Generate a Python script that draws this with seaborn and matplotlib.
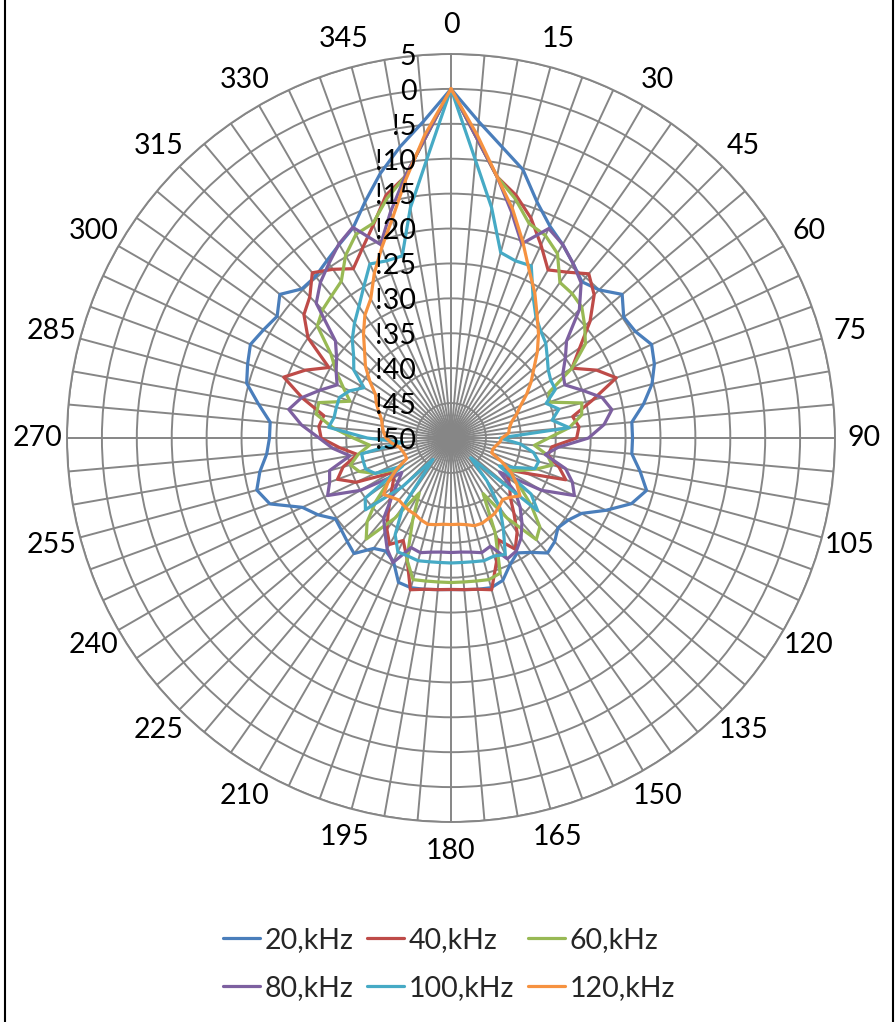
import numpy as np
import pandas as pd
import matplotlib
matplotlib.use("Agg")
import matplotlib.pyplot as plt
import seaborn as sns

# angles of the radar categories (every 5 degrees)
angles = list(range(0, 360, 5))
angle_labels = [str(a) if a % 15 == 0 else "" for a in angles]

r_ticks = list(range(5, -55, -5))
r_labels = ["5", "0", "!5", "!10", "!15", "!20", "!25", "!30", "!35", "!40", "!45", "!50"]

series_names = ["20,kHz", "40,kHz", "60,kHz", "80,kHz", "100,kHz", "120,kHz"]
colors = ["#4A7EBB", "#BE4B48", "#98B954", "#7D60A0", "#46AAC5", "#F69240"]

# levels in dB, 0..355 deg
khz20 = [0, -4.5, -7.7, -10.2, -14, -16.5, -18, -19.5, -20.8, -20, -18, -19.8,
         -19.5, -18.3, -19, -20.2, -22, -24, -24, -24, -22.5, -21, -22.5, -25.5,
         -28.4, -29.5, -30, -29, -28.5, -30, -31, -30, -28.3, -27.8, -28, -28.2,
         -28.3, -28.2, -28, -27.8, -28, -30.5, -31.3, -30.7, -28.4, -29, -29.5, -29.8,
         -28, -26.5, -22.4, -21.2, -22.2, -23.5, -24, -24, -22, -19.7, -19, -18.3,
         -19, -19.6, -18, -19.8, -19.8, -19, -18, -16.8, -14, -10.8, -7.7, -4.5]
khz40 = [0, -7, -12, -14, -16.5, -19.5, -22.2, -21, -19.3, -21, -24, -27.5,
         -30, -27, -24.8, -29, -32.3, -31.6, -32, -35.5, -35.9, -34, -32.5, -38,
         -41, -40, -39, -38, -36, -33.5, -31.6, -33.9, -31, -27.5, -28, -28.2,
         -28.3, -28.2, -28, -27.5, -31.6, -33.8, -32.4, -34, -36, -37.7, -39, -40,
         -39.9, -35, -32.7, -34, -36.4, -34, -31.4, -31, -31.5, -28, -24.5, -27,
         -29.8, -25, -22.5, -21.4, -19.1, -20.5, -22, -20, -17.5, -14, -12, -7]
khz60 = [0, -7, -12, -14.5, -17.3, -18, -19.5, -22.8, -23, -23.5, -25, -26.5,
         -30, -34.5, -35, -30.6, -31, -33, -36, -38, -36, -35, -37, -39,
         -40.6, -38, -35, -32, -31, -36, -40.8, -35, -29.4, -29, -29.2, -29.3,
         -29.3, -29.3, -29.2, -29, -31.5, -37, -40.9, -36, -31.1, -33, -36, -39,
         -41, -38, -36, -35.1, -36.5, -38.3, -36, -33, -30.4, -30.4, -34.6, -33,
         -31, -29, -25, -24, -23.4, -22.6, -19.8, -17.8, -17.3, -14.5, -12, -7]
khz80 = [0, -7, -12, -16.5, -20.4, -16.9, -18, -19.5, -21, -24, -28.4, -30,
         -31.5, -32, -30, -27.6, -26.6, -28, -30.3, -34.6, -36.3, -33, -31.5, -30.5,
         -35, -41.5, -38, -36, -34.2, -32.5, -31.3, -30.9, -33.5, -33, -33.4, -33.6,
         -33.6, -33.6, -33.4, -33, -33.3, -30.3, -31.7, -33.5, -35, -38, -40, -41.4,
         -35, -30.5, -31.5, -32, -35.3, -33, -31.1, -28.5, -26.4, -27.8, -30, -32,
         -31, -30, -28.4, -22.7, -20.9, -19.5, -17.9, -16.7, -20.5, -16.5, -12, -7]
khz100 = [0, -10, -16.5, -22.5, -23, -22.8, -26.5, -28.8, -30, -30.8, -32, -33,
          -33.5, -33.5, -35.5, -34, -35.3, -33, -43, -40, -38, -37, -37.2, -40,
          -42, -36, -33.8, -46, -42, -37.8, -35, -31.6, -32, -31.8, -32, -32.1,
          -32.1, -32.1, -32, -31.8, -32, -32, -34, -38, -46, -40, -34, -35,
          -42, -38, -37, -37, -37, -43, -38, -32.4, -33, -33, -33, -34,
          -35.6, -33, -31.8, -30, -28.5, -27, -25, -22.5, -23, -23, -16.5, -10]
khz120 = [0, -6.5, -12, -16, -20, -23.5, -26, -28.5, -30.5, -32.5, -34.5, -36,
          -37.5, -39, -40, -41, -41.5, -41.7, -42.7, -43, -43.5, -43.8, -43.8, -42,
          -40, -38.5, -37.1, -38, -38.5, -38, -37.5, -37.3, -37, -37, -37.4, -37.6,
          -37.6, -37.6, -37.4, -37.2, -37.5, -37.9, -38, -38.2, -38.4, -38, -37.4, -39,
          -41, -43, -43, -42.8, -42.5, -41.5, -40.7, -40.3, -40, -39.7, -39, -38.2,
          -37.5, -35.8, -34, -32.5, -30.5, -28.5, -27, -24, -21, -17.5, -12.5, -6.5]

all_series = [khz20, khz40, khz60, khz80, khz100, khz120]

# long table, each curve closed back to 0 deg
rows = []
for name, vals in zip(series_names, all_series):
    for a, v in zip(angles + [360], vals + [vals[0]]):
        rows.append({"theta": np.deg2rad(a), "level": v, "series": name})
df = pd.DataFrame(rows)

sns.set_theme(style="white")
plt.rcParams["font.family"] = ["Lato", "DejaVu Sans"]

grid_col = "#868686"
fsize = 20.5

fig = plt.figure(figsize=(8.96, 10.22), dpi=100)
ax = fig.add_axes([0.07478, 0.19569, 0.85714, 0.75147], projection="polar")
ax.set_theta_zero_location("N")
ax.set_theta_direction(-1)

sns.lineplot(data=df, x="theta", y="level", hue="series", palette=colors,
             hue_order=series_names, sort=False, estimator=None,
             linewidth=2.3, legend=False, ax=ax)

ax.set_ylim(-50, 5)
ax.set_xticks(np.deg2rad(angles))
ax.set_xticklabels(angle_labels)
ax.set_yticks(r_ticks)
ax.set_yticklabels([])
ax.set_xlabel("")
ax.set_ylabel("")
ax.grid(True, color=grid_col, linewidth=1.4)
ax.set_axisbelow(True)
ax.spines["polar"].set_color(grid_col)
ax.spines["polar"].set_linewidth(1.4)
ax.tick_params(axis="x", pad=14, length=0, labelsize=fsize, colors="black")
ax.tick_params(axis="y", length=0)

for v, lab in zip(r_ticks, r_labels):
    ax.annotate(lab, xy=(0, v), xytext=(-25, -2), textcoords="offset points",
                ha="right", va="center", fontsize=fsize, color="black")

# legend fills by column, so reorder to read row-wise like the original
order = [0, 3, 1, 4, 2, 5]
fig.legend([ax.lines[i] for i in order], [series_names[i] for i in order],
           ncol=3, loc="center", bbox_to_anchor=(449 / 896, 1 - 964 / 1022),
           frameon=False, fontsize=fsize, handlelength=1.3, handletextpad=0.15,
           columnspacing=0.5, labelspacing=0.75)

# chart area border (left and right edges visible)
fig.add_artist(plt.Rectangle((5 / 896, -0.01), 888 / 896, 1.02,
                             transform=fig.transFigure, fill=False,
                             edgecolor="black", linewidth=1.5))

fig.savefig("out.png", dpi=100)
